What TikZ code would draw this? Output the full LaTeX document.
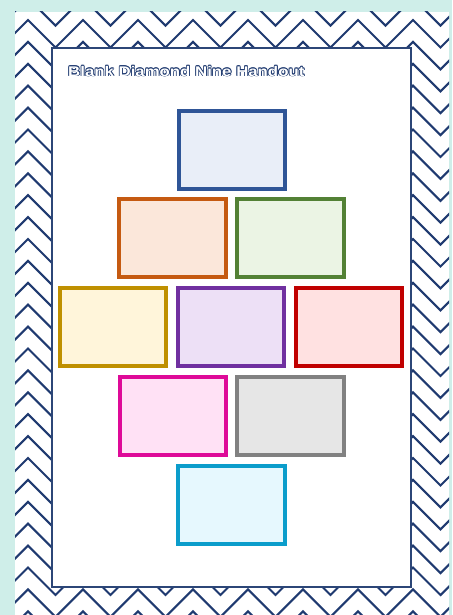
\documentclass[tikz,border=0pt]{standalone}
\usepackage{fontspec}
\usetikzlibrary{calc}
\newfontfamily\titlefont{Liberation Sans}
\definecolor{bgteal}{HTML}{CFEEE9}
\definecolor{navy}{HTML}{1F3A70}
\definecolor{panelc}{HTML}{2C4677}
\definecolor{c1}{HTML}{2F5597}\definecolor{f1}{HTML}{E9EEF8}
\definecolor{c2}{HTML}{C55A11}\definecolor{f2}{HTML}{FBE7DA}
\definecolor{c3}{HTML}{538135}\definecolor{f3}{HTML}{EBF4E4}
\definecolor{c4}{HTML}{BF9000}\definecolor{f4}{HTML}{FFF5DA}
\definecolor{c5}{HTML}{7030A0}\definecolor{f5}{HTML}{EDE0F6}
\definecolor{c6}{HTML}{C00000}\definecolor{f6}{HTML}{FFE1E1}
\definecolor{c7}{HTML}{DE0A98}\definecolor{f7}{HTML}{FFE1F5}
\definecolor{c8}{HTML}{818181}\definecolor{f8}{HTML}{E6E6E6}
\definecolor{c9}{HTML}{0B9DCB}\definecolor{f9}{HTML}{E6F8FE}
\tikzset{
  chev/.style={draw=navy, line width=2.1pt, line join=miter},
  card/.style={draw, line width=4pt, minimum width=106.5pt, minimum height=78pt, inner sep=0pt},
  ttl/.style={anchor=west, inner sep=0pt, xscale=1.2, font=\titlefont\bfseries\fontsize{14}{14}\selectfont}
}
\begin{document}
\begin{tikzpicture}[x=1pt,y=-1pt]
\useasboundingbox (0,0) rectangle (452,615);
\fill[bgteal] (0,0) rectangle (452,615);
\fill[white] (15,12) rectangle (449,615);
\begin{scope}
\clip (15,12) rectangle (449,615);
\foreach \n in {-2,...,27}{
  \pgfmathsetmacro\yp{20+21.9*\n}
  \pgfmathsetmacro\yv{\yp+27.5}
  \draw[chev] (0.5,\yv) \foreach \k in {0,...,8}{ -- ({28+55*\k},\yp) -- ({55.5+55*\k},\yv) };
}
\end{scope}
\draw[panelc, line width=2pt, fill=white] (52,48) rectangle (411,587);
% title with outline
\foreach \a in {0,45,...,315}{
  \node[ttl, text=navy] (t\a) at ($(68,71)+(\a:0.75)$) {Blank Diamond Nine Handout};
}
\node[ttl, text=white] (title) at (68,71) {Blank Diamond Nine Handout};
% cards
\node[card, draw=c1, fill=f1] (b1) at (232,150) {};
\node[card, draw=c2, fill=f2] (b2) at (172.3,238.3) {};
\node[card, draw=c3, fill=f3] (b3) at (290.7,238.3) {};
\node[card, draw=c4, fill=f4] (b4) at (112.8,327) {};
\node[card, draw=c5, fill=f5] (b5) at (231.2,327) {};
\node[card, draw=c6, fill=f6] (b6) at (349.2,327) {};
\node[card, draw=c7, fill=f7] (b7) at (172.8,416.3) {};
\node[card, draw=c8, fill=f8] (b8) at (290.7,416.3) {};
\node[card, draw=c9, fill=f9] (b9) at (231.7,505) {};
\end{tikzpicture}
\end{document}
